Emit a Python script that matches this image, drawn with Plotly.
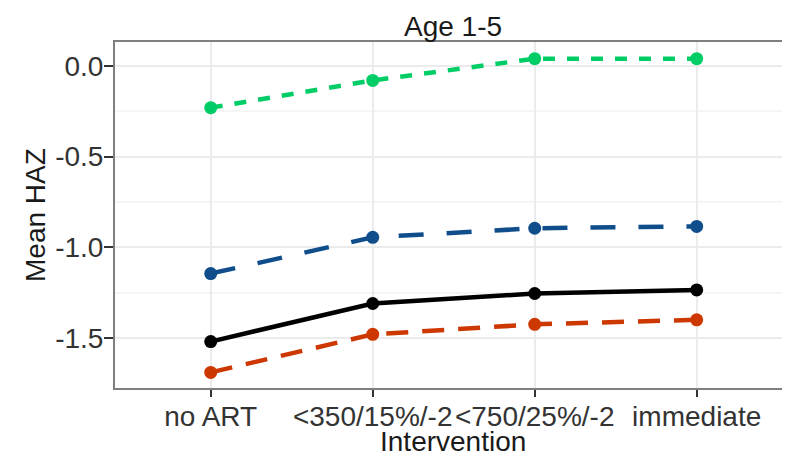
import plotly.graph_objects as go

categories = ["no ART", "<350/15%/-2", "<750/25%/-2", "immediate"]
green_vals = [-0.23, -0.08, 0.04, 0.04]
blue_vals = [-1.145, -0.945, -0.895, -0.885]
black_vals = [-1.52, -1.31, -1.255, -1.235]
orange_vals = [-1.69, -1.48, -1.425, -1.40]

series = [
    ("Group A", green_vals, "#00CD66", "12px,12px"),
    ("Group B", blue_vals, "#104E8B", "25px,23px"),
    ("Group C", black_vals, "#000000", "solid"),
    ("Group D", orange_vals, "#CD3700", "22px,14px"),
]

FONT = "Liberation Sans, Arial, sans-serif"
OFF = 8  # page body margin offset
W, H = 790 - OFF, 460 - OFF
L, R, T, B = 115 - OFF, 0, 42 - OFF, 72
PW, PH = W - L - R, H - T - B

fig = go.Figure()
for name, vals, color, dash in series:
    fig.add_trace(go.Scatter(
        x=list(range(len(categories))), y=vals, name=name,
        mode="lines+markers",
        line=dict(color=color, width=4.5, dash=dash),
        marker=dict(color=color, size=13),
        showlegend=False,
    ))

fig.update_layout(
    width=W, height=H,
    margin=dict(l=L, r=R, t=T, b=B, autoexpand=False),
    paper_bgcolor="white", plot_bgcolor="white",
    font=dict(family=FONT, size=28, color="#1a1a1a"),
    annotations=[
        dict(text="Age 1-5", xref="paper", yref="paper", x=0.5, xanchor="center",
             y=1 + (T - (27 - OFF)) / PH, yanchor="middle", showarrow=False,
             font=dict(size=28, color="#1a1a1a")),
        dict(text="Intervention", xref="paper", yref="paper", x=0.5, xanchor="center",
             y=-((441 - OFF) - (H - B)) / PH, yanchor="middle", showarrow=False,
             font=dict(size=28, color="#1a1a1a")),
        dict(text="Mean HAZ", xref="paper", yref="paper", x=-(L - (35 - OFF)) / PW, xanchor="center",
             y=0.5, yanchor="middle", textangle=-90, showarrow=False,
             font=dict(size=28, color="#1a1a1a")),
    ],
)

fig.update_xaxes(
    range=[-0.591, 3.576], automargin=False,
    tickmode="array", tickvals=list(range(len(categories))), ticktext=categories,
    showgrid=True, gridcolor="#ebebeb", gridwidth=2,
    zeroline=False,
    showline=True, linecolor="#7f7f7f", linewidth=2, mirror=True,
    ticks="outside", ticklen=7, tickwidth=2, tickcolor="#333333",
    ticklabelstandoff=-5,
    tickfont=dict(size=28, color="#333333"),
)

fig.update_yaxes(
    range=[-1.776, 0.132], automargin=False,
    tickvals=[0.0, -0.5, -1.0, -1.5], ticktext=["0.0", "-0.5", "-1.0", "-1.5"],
    showgrid=True, gridcolor="#ebebeb", gridwidth=2,
    minor=dict(tickvals=[-0.25, -0.75, -1.25], showgrid=True, gridcolor="#f5f5f5", gridwidth=2, ticks=""),
    zeroline=False,
    showline=True, linecolor="#7f7f7f", linewidth=2,
    ticks="outside", ticklen=9, tickwidth=2, tickcolor="#333333",
    ticklabelstandoff=-5,
    tickfont=dict(size=28, color="#333333"),
)

fig.write_html("out.html")
